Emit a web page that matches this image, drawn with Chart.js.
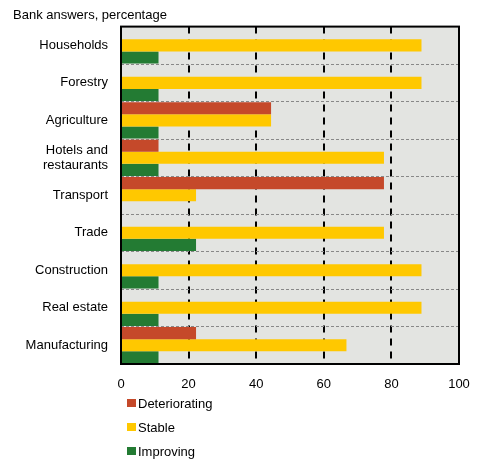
<!DOCTYPE html>
<html>
<head>
<meta charset="utf-8">
<script src="https://cdn.jsdelivr.net/npm/chart.js@4/dist/chart.umd.min.js"></script>
<style>
  body{margin:0;background:#fff;}
  #wrap{position:relative;width:479px;height:462px;}
  #legend{position:absolute;left:127px;top:391px;font:13px "Liberation Sans",Arial,sans-serif;color:#000;}
  .item{height:24px;display:flex;align-items:center;}
  .box{width:9px;height:8px;margin-right:2px;}
</style>
</head>
<body>
<div id="wrap">
  <canvas id="chart" width="479" height="462"></canvas>
  <div id="legend"></div>
</div>
<script>
const categories=["Households","Forestry","Agriculture",["Hotels and","restaurants"],"Transport","Trade","Construction","Real estate","Manufacturing"];
const deteriorating=[0,0,44.4,11.1,77.8,0,0,0,22.2];
const stable=[88.9,88.9,44.4,77.8,22.2,77.8,88.9,88.9,66.7];
const improving=[11.1,11.1,11.1,11.1,0,22.2,11.1,11.1,11.1];
const xTicks=[0,20,40,60,80,100];

const font={family:'"Liberation Sans", Arial, sans-serif',size:13};

// fond gris + cadre noir autour de la zone du graphique
const frame={
  id:"frame",
  beforeDraw(chart){
    const a=chart.chartArea,c=chart.ctx;
    c.save();
    c.fillStyle="#e3e4e1";
    c.fillRect(a.left,a.top,a.right-a.left,a.bottom-a.top);
    c.restore();
  },
  afterDatasetsDraw(chart){
    const a=chart.chartArea,c=chart.ctx;
    c.save();
    c.strokeStyle="#000";
    c.lineWidth=2;
    c.strokeRect(a.left,a.top,a.right-a.left,a.bottom-a.top);
    c.restore();
  }
};

const ctx=document.getElementById("chart").getContext("2d");
const chart=new Chart(ctx,{
  type:"bar",
  data:{
    labels:categories,
    datasets:[
      {label:"Deteriorating",data:deteriorating,backgroundColor:"#c5492a"},
      {label:"Stable",data:stable,backgroundColor:"#ffc800"},
      {label:"Improving",data:improving,backgroundColor:"#237b33"}
    ]
  },
  options:{
    indexAxis:"y",
    responsive:false,
    animation:false,
    categoryPercentage:0.97,
    barPercentage:1,
    layout:{padding:{left:13,right:20,top:2,bottom:70}},
    plugins:{
      legend:{display:false},
      tooltip:{enabled:false},
      title:{display:true,text:"Bank answers, percentage",align:"start",color:"#000",
        font:{...font,weight:"normal"},padding:{top:6,bottom:3}}
    },
    scales:{
      x:{
        min:0,max:100,
        afterFit:(s)=>{s.height=28;s.paddingLeft=0;s.paddingRight=0;},
        afterBuildTicks:(s)=>{s.ticks=xTicks.map(v=>({value:v}));},
        ticks:{color:"#000",font:font,padding:13,maxRotation:0},
        grid:{color:"#000",lineWidth:2,drawTicks:false},
        border:{display:false,dash:[7,6]}
      },
      y:{
        afterFit:(s)=>{s.width=108;},
        ticks:{color:"#000",font:font,padding:13},
        grid:{color:"#888",lineWidth:1,drawTicks:false,offset:true},
        border:{display:false,dash:[3,2]}
      }
    }
  },
  plugins:[frame]
});

const legend=document.getElementById("legend");
chart.data.datasets.forEach(ds=>{
  legend.innerHTML+=`<div class="item"><span class="box" style="background:${ds.backgroundColor}"></span>${ds.label}</div>`;
});
</script>
</body>
</html>
